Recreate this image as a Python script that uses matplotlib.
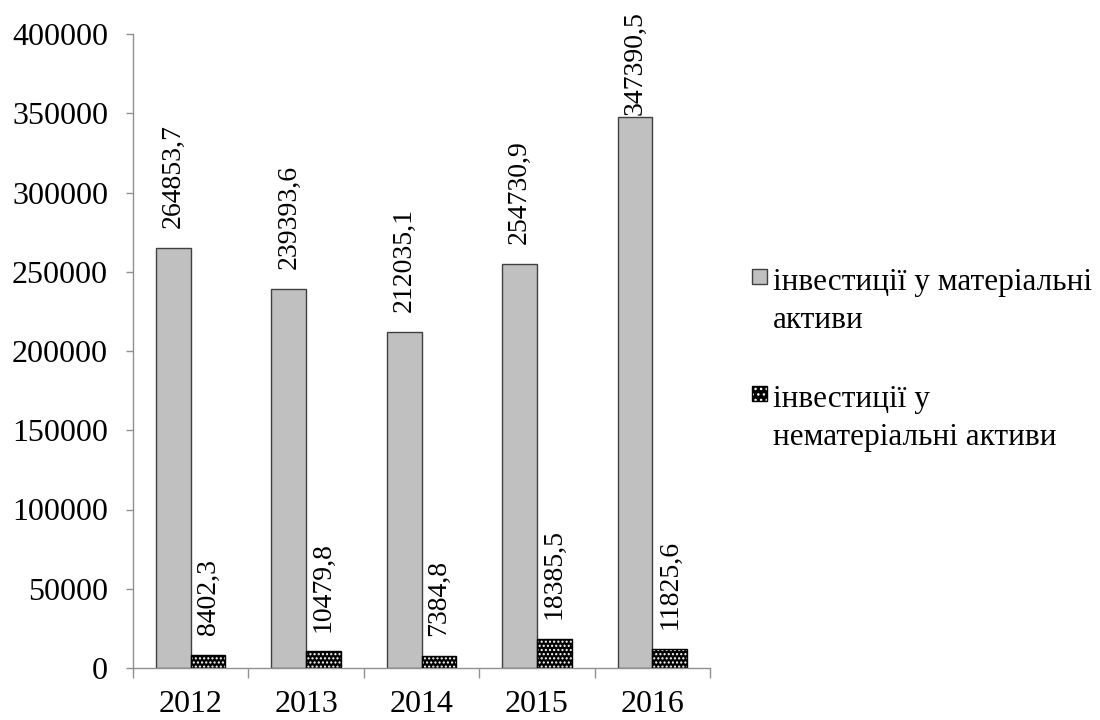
import numpy as np
import matplotlib.pyplot as plt
from matplotlib.patches import Rectangle

plt.rcParams['font.family'] = ['Liberation Serif', 'DejaVu Serif']
plt.rcParams['hatch.linewidth'] = 1.0

years = ['2012', '2013', '2014', '2015', '2016']
tangible = [264853.7, 239393.6, 212035.1, 254730.9, 347390.5]
intangible = [8402.3, 10479.8, 7384.8, 18385.5, 11825.6]
series_names = ['інвестиції у матеріальні\nактиви',
                'інвестиції у\nнематеріальні активи']

W, H = 1100, 720


def fmt(v):
    return f'{v:.1f}'.replace('.', ',')


fig = plt.figure(figsize=(W / 100, H / 100), dpi=100)
ax = fig.add_axes([133 / W, 1 - 668 / H, 577 / W, 634 / H])

x = np.arange(len(years))
w = 0.3

# gray bars
ax.bar(x - w / 2, tangible, w, color='#c0c0c0', edgecolor='#404040', linewidth=1.0, zorder=2)

# black bars with a white dotted fill, outlined on top
ax.bar(x + w / 2, intangible, w, color='black', edgecolor='white', hatch='....',
       linewidth=0, zorder=2)
ax.bar(x + w / 2, intangible, w, fill=False, edgecolor='black', linewidth=1.0, zorder=3)

# value labels above the bars; the tallest one is kept inside the figure
label_cap = 349000
for xi, v in zip(x - w / 2, tangible):
    ax.text(xi, min(v + 12500, label_cap), fmt(v), rotation=90, ha='center',
            va='bottom', fontsize=20)
for xi, v in zip(x + w / 2, intangible):
    ax.text(xi, min(v + 12500, label_cap), fmt(v), rotation=90, ha='center',
            va='bottom', fontsize=20)

ax.set_xlim(-0.5, len(years) - 0.5)
ax.set_ylim(0, 400000)
ax.set_yticks(np.arange(0, 400001, 50000))
ax.set_yticklabels([str(t) for t in range(0, 400001, 50000)], fontsize=23)
ax.set_xticks(x)
ax.set_xticklabels(years, fontsize=23)
ax.set_xticks(np.arange(-0.5, len(years)), minor=True)
ax.tick_params(axis='x', which='major', length=0, pad=16)
ax.tick_params(axis='x', which='minor', length=7, color='#909090', width=1)
ax.tick_params(axis='y', length=5, color='#909090', width=1, pad=13)

for s in ['top', 'right']:
    ax.spines[s].set_visible(False)
for s in ['left', 'bottom']:
    ax.spines[s].set_color('#909090')
    ax.spines[s].set_linewidth(1)

# legend: square marker next to the first line of each two-line label
legend_style = [
    dict(facecolor='#c0c0c0', edgecolor='#404040', linewidth=1.0),
    dict(facecolor='black', edgecolor='white', hatch='...', linewidth=0),
]
baselines = [290, 407]
line_step = 38
for name, style, base in zip(series_names, legend_style, baselines):
    top = base - 21
    fig.add_artist(Rectangle((752 / W, 1 - (top + 15) / H), 15 / W, 15 / H,
                             transform=fig.transFigure, **style))
    if style.get('hatch'):
        fig.add_artist(Rectangle((752 / W, 1 - (top + 15) / H), 15 / W, 15 / H,
                                 transform=fig.transFigure, fill=False,
                                 edgecolor='black', linewidth=1.0))
    for i, line in enumerate(name.split('\n')):
        fig.text(773 / W, 1 - (base + i * line_step) / H, line, fontsize=22.5,
                 ha='left', va='baseline')

fig.savefig('out.png', dpi=100)
